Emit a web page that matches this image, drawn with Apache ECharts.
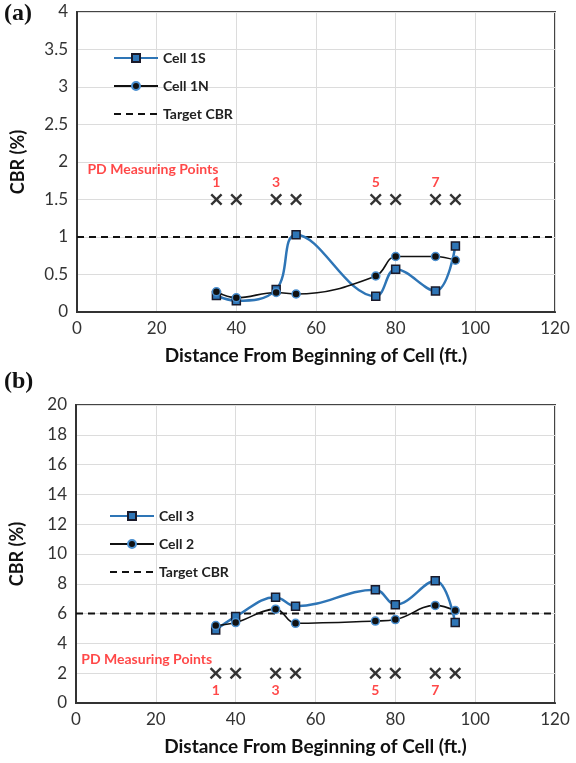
<!DOCTYPE html>
<html>
<head>
<meta charset="utf-8">
<script src="https://cdn.jsdelivr.net/npm/echarts@6/dist/echarts.min.js"></script>
<style>
  html, body { margin: 0; padding: 0; background: #fff; }
  #main { width: 576px; height: 763px; }
</style>
</head>
<body>
<div id="main"></div>
<script>
// 距离（ft.）
var distance = [35, 40, 50, 55, 75, 80, 90, 95];
// (a) 图
var cell1S = [0.22, 0.15, 0.30, 1.03, 0.21, 0.57, 0.28, 0.88];
var cell1N = [0.27, 0.19, 0.26, 0.24, 0.48, 0.74, 0.74, 0.69];
var targetA = 1;
var pdLevelA = 1.5;
// (b) 图
var cell3 = [4.9, 5.8, 7.1, 6.5, 7.6, 6.6, 8.2, 5.4];
var cell2 = [5.2, 5.4, 6.3, 5.35, 5.5, 5.6, 6.55, 6.2];
var targetB = 6;
var pdLevelB = 2;
// PD测点编号
var pdLabels = ['1', '', '3', '', '5', '', '7', ''];
var xRange = [0, 120];

var FONT = 'Lato';
var BLUE = '#2e75b6';
var RED = '#ff1a1a';
var XMARK = 'path://M0,1.4L1.4,0L5,3.6L8.6,0L10,1.4L6.4,5L10,8.6L8.6,10L5,6.4L1.4,10L0,8.6L3.6,5Z';

function pairs(ys) {
    var out = [];
    for (var i = 0; i < distance.length; i++) out.push([distance[i], ys[i]]);
    return out;
}
function flat(v) {
    return [[xRange[0], v], [xRange[1], v]];
}
function pdPoints(level) {
    var out = [];
    for (var i = 0; i < distance.length; i++) out.push({value: [distance[i], level], name: pdLabels[i]});
    return out;
}

function xAxisCfg(idx) {
    return {
        type: 'value', gridIndex: idx, min: 0, max: 120, interval: 20,
        name: 'Distance From Beginning of Cell (ft.)', nameLocation: 'middle', nameGap: 34,
        nameTextStyle: {fontFamily: FONT, fontWeight: 'bold', fontSize: 19, color: '#111'},
        axisLine: {lineStyle: {color: '#333', width: 2}},
        axisTick: {show: false},
        axisLabel: {fontFamily: FONT, fontSize: 17, color: '#333', margin: 8},
        splitLine: {lineStyle: {color: '#dcdcdc', width: 1}}
    };
}
function yAxisCfg(idx, max, step) {
    return {
        type: 'value', gridIndex: idx, min: 0, max: max, interval: step,
        name: 'CBR (%)', nameLocation: 'middle', nameGap: 50,
        nameTextStyle: {fontFamily: FONT, fontWeight: 'bold', fontSize: 18, color: '#111'},
        axisLine: {show: true, lineStyle: {color: '#333', width: 2}},
        axisTick: {show: false},
        axisLabel: {fontFamily: FONT, fontSize: 17, color: '#333', margin: 9},
        splitLine: {lineStyle: {color: '#dcdcdc', width: 1}}
    };
}
function dataSeries(name, idx, ys, kind) {
    var s = {
        name: name, type: 'line', xAxisIndex: idx, yAxisIndex: idx,
        data: pairs(ys), smooth: 0.4, z: kind === 'blue' ? 3 : 4
    };
    if (kind === 'blue') {
        s.symbol = 'rect'; s.symbolSize = 8;
        s.lineStyle = {color: BLUE, width: 2.5};
        s.itemStyle = {color: BLUE, borderColor: '#1a1a2a', borderWidth: 1.5};
    } else {
        s.symbol = 'circle'; s.symbolSize = 8;
        s.lineStyle = {color: '#111', width: 1.6};
        s.itemStyle = {color: '#111', borderColor: '#4a8fd0', borderWidth: 1.5};
    }
    return s;
}
function targetSeries(idx, v) {
    return {
        name: 'Target CBR', type: 'line', xAxisIndex: idx, yAxisIndex: idx,
        data: flat(v), symbol: 'none',
        itemStyle: {color: '#111'},
        lineStyle: {color: '#111', width: 2, type: [7, 5]}, z: 2
    };
}
function pdSeries(idx, level, pos) {
    return {
        name: 'PD' + idx, type: 'scatter', xAxisIndex: idx, yAxisIndex: idx,
        data: pdPoints(level), symbol: XMARK, symbolSize: 12,
        itemStyle: {color: '#000'},
        label: {
            show: true, position: pos, distance: 4,
            formatter: function (p) { return p.name; },
            fontFamily: FONT, fontWeight: 'bold', fontSize: 14, color: RED
        },
        z: 5
    };
}
function pdTitle(idx, x, y) {
    return {
        name: 'PDT' + idx, type: 'scatter', xAxisIndex: idx, yAxisIndex: idx,
        data: [[x, y]], symbolSize: 1, itemStyle: {color: 'rgba(0,0,0,0)'},
        label: {
            show: true, position: 'right', distance: 0,
            formatter: 'PD Measuring Points',
            fontFamily: FONT, fontWeight: 'bold', fontSize: 14, color: RED
        },
        silent: true
    };
}
function legendCfg(names, left, top) {
    var items = names.map(function (n) {
        if (n === 'Target CBR') return {name: n, itemStyle: {opacity: 0}};
        return {name: n};
    });
    return {
        data: items, orient: 'vertical', left: left, top: top,
        itemWidth: 44, itemHeight: 10, itemGap: 14,
        textStyle: {fontFamily: FONT, fontWeight: 'bold', fontSize: 14, color: '#222'}
    };
}

var option = {
    animation: false,
    backgroundColor: '#fff',
    grid: [
        {left: 77, top: 12, width: 478, height: 300, show: true, borderColor: '#444', borderWidth: 2},
        {left: 73, top: 405, width: 482, height: 298, show: true, borderColor: '#444', borderWidth: 2}
    ],
    xAxis: [xAxisCfg(0), xAxisCfg(1)],
    yAxis: [yAxisCfg(0, 4, 0.5), yAxisCfg(1, 20, 2)],
    legend: [
        legendCfg(['Cell 1S', 'Cell 1N', 'Target CBR'], 108, 46),
        legendCfg(['Cell 3', 'Cell 2', 'Target CBR'], 104, 504)
    ],
    graphic: [
        {type: 'text', left: 4, top: 2, style: {text: '(a)', font: 'bold 24px "Liberation Serif"', fill: '#111'}},
        {type: 'text', left: 4, top: 370, style: {text: '(b)', font: 'bold 24px "Liberation Serif"', fill: '#111'}}
    ],
    series: [
        dataSeries('Cell 1S', 0, cell1S, 'blue'),
        dataSeries('Cell 1N', 0, cell1N, 'black'),
        targetSeries(0, targetA),
        pdSeries(0, pdLevelA, 'top'),
        pdTitle(0, 2.5, 1.9),
        dataSeries('Cell 3', 1, cell3, 'blue'),
        dataSeries('Cell 2', 1, cell2, 'black'),
        targetSeries(1, targetB),
        pdSeries(1, pdLevelB, 'bottom'),
        pdTitle(1, 1.2, 2.9)
    ]
};

var myChart = echarts.init(document.getElementById('main'));
myChart.setOption(option);
</script>
</body>
</html>
